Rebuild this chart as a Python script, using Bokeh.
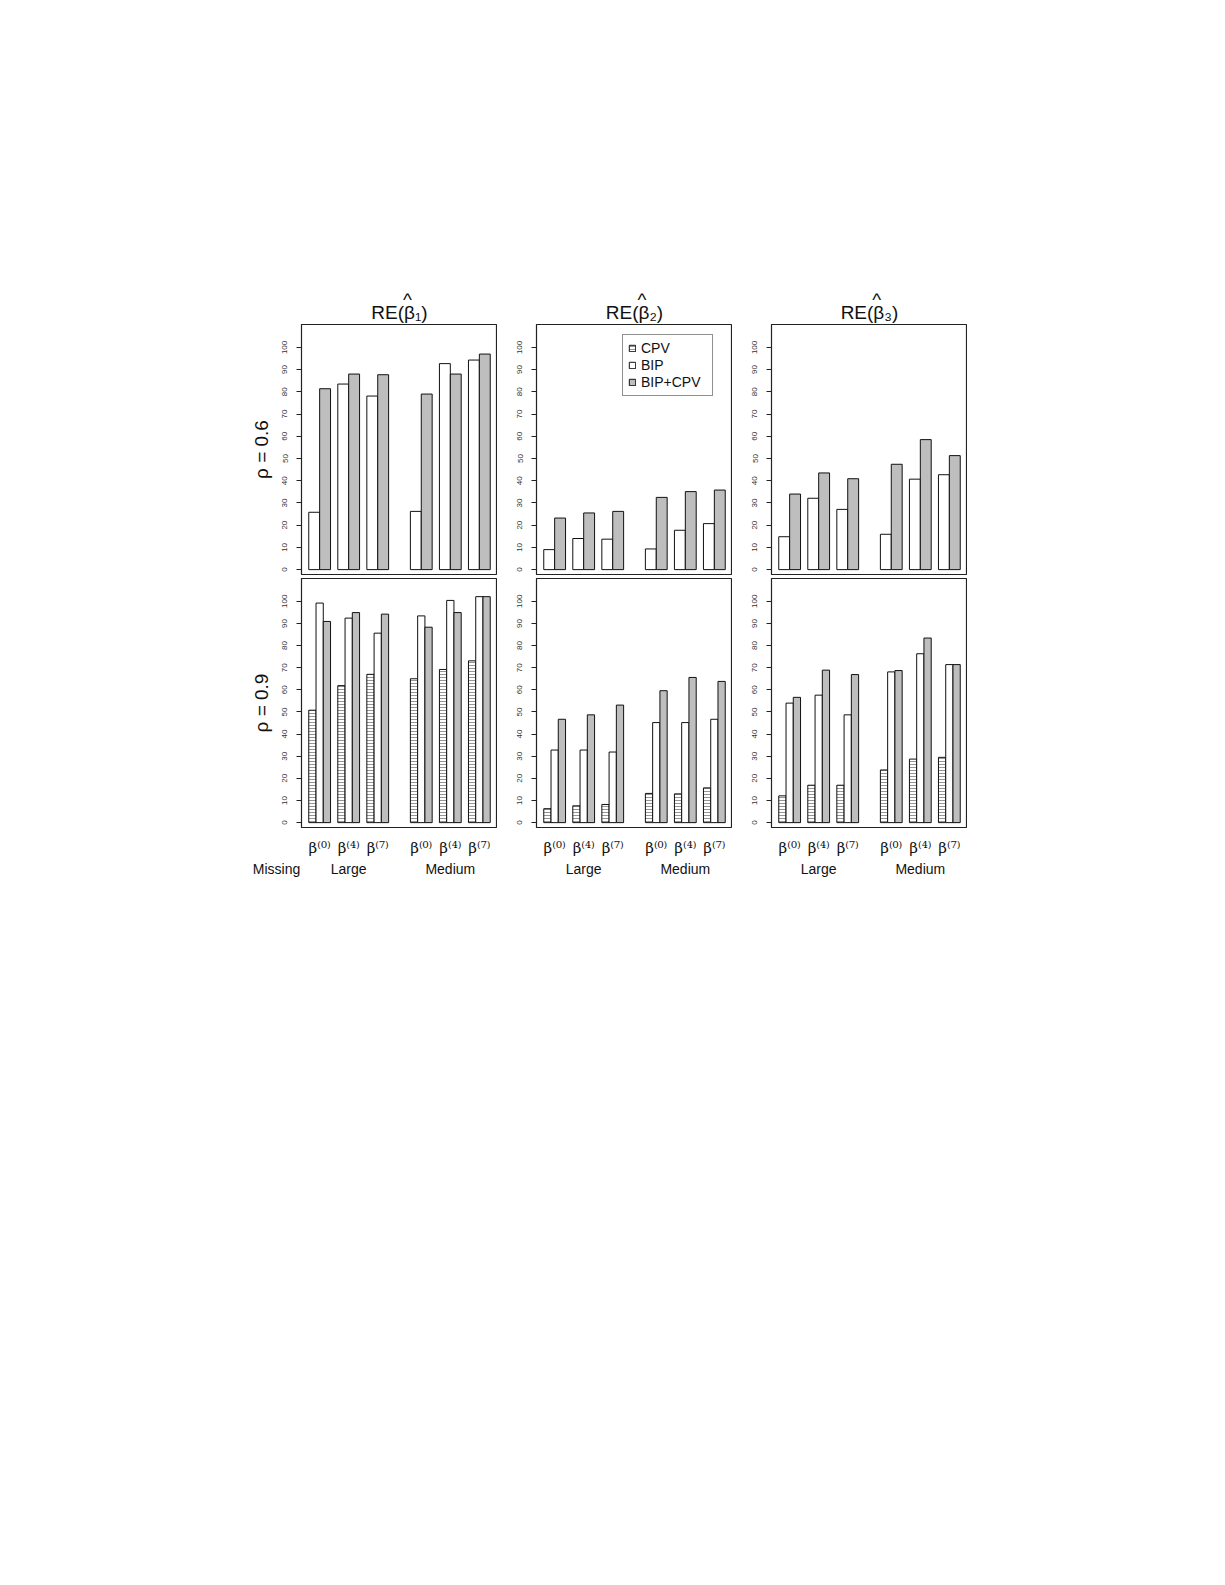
from bokeh.plotting import figure
from bokeh.models import (ColumnDataSource, FixedTicker, Range1d,
                          Legend, LegendItem)
from bokeh.core.properties import value
from bokeh.layouts import row, column
from bokeh.embed import file_html
from bokeh.resources import INLINE

NAN = float("nan")

# ---------------- data ----------------
beta_labels = ["β⁽⁰⁾", "β⁽⁴⁾", "β⁽⁷⁾", "β⁽⁰⁾", "β⁽⁴⁾", "β⁽⁷⁾"]
missing_title = "Missing"
missing_labels = ["Large", "Medium"]
titles = ["RE(β₁)", "RE(β₂)", "RE(β₃)"]
hat = "^"
rho_labels = ["ρ = 0.6", "ρ = 0.9"]
series_names = ["CPV", "BIP", "BIP+CPV"]
y_ticks = [0, 10, 20, 30, 40, 50, 60, 70, 80, 90, 100]

# rho = 0.6 (CPV not reported)
cpv_06 = [NAN, NAN, NAN, NAN, NAN, NAN]
bip_06_b1 = [25.8, 83.5, 78.1, 26.2, 92.7, 94.3]
both_06_b1 = [81.4, 88.0, 87.7, 79.0, 88.0, 97.0]
bip_06_b2 = [9.0, 14.0, 13.7, 9.3, 17.7, 20.7]
both_06_b2 = [23.2, 25.5, 26.2, 32.5, 35.1, 35.8]
bip_06_b3 = [14.8, 32.1, 27.1, 15.9, 40.7, 42.7]
both_06_b3 = [34.0, 43.5, 40.9, 47.4, 58.5, 51.3]

# rho = 0.9
cpv_09_b1 = [50.8, 61.9, 67.0, 65.0, 69.2, 73.1]
bip_09_b1 = [99.2, 92.4, 85.6, 93.4, 100.4, 102.1]
both_09_b1 = [90.9, 94.9, 94.2, 88.3, 94.9, 102.1]
cpv_09_b2 = [6.3, 7.6, 8.2, 13.2, 13.0, 15.7]
bip_09_b2 = [32.8, 32.8, 31.9, 45.2, 45.2, 46.7]
both_09_b2 = [46.7, 48.7, 53.1, 59.6, 65.6, 63.8]
cpv_09_b3 = [12.1, 16.9, 16.9, 23.8, 28.7, 29.5]
bip_09_b3 = [54.0, 57.6, 48.7, 68.1, 76.3, 71.4]
both_09_b3 = [56.6, 68.9, 66.9, 68.7, 83.4, 71.4]

top_row = [(bip_06_b1, both_06_b1), (bip_06_b2, both_06_b2), (bip_06_b3, both_06_b3)]
bottom_row = [(cpv_09_b1, bip_09_b1, both_09_b1),
              (cpv_09_b2, bip_09_b2, both_09_b2),
              (cpv_09_b3, bip_09_b3, both_09_b3)]

# ---------------- layout / style ----------------
group_start = [1, 5, 9, 15, 19, 23]          # R barplot-like slots
centers = [g + 1.5 for g in group_start]
missing_centers = [(group_start[0] + group_start[2] + 3) / 2,
                   (group_start[3] + group_start[5] + 3) / 2]
XR = (0, 27)
YR = (-2.2, 110.3)
FONT = "Liberation Sans"
GREY = "#bebebe"
HATCH = "#7a7a7a"
FRAME_W = 196
LEFT0 = 301
LEFTN = 39
BOTTOM_AX = 22
UNIT = FRAME_W / (XR[1] - XR[0])   # px per x unit
HAT_PAD = "\u00a0" * 6             # moves the hat over the beta


def base_fig(col, top):
    p = figure(output_backend="svg", toolbar_location=None,
               frame_width=FRAME_W, frame_height=250 if top else 249,
               x_range=Range1d(*XR), y_range=Range1d(*YR),
               min_border_left=LEFT0 if col == 0 else LEFTN,
               min_border_right=0,
               min_border_top=324 if top else 2,
               min_border_bottom=2 if top else BOTTOM_AX,
               x_axis_location=None if top else "below")
    p.background_fill_color = "white"
    p.border_fill_color = "white"
    p.outline_line_color = "#222222"
    p.outline_line_width = 1.2
    p.xgrid.visible = False
    p.ygrid.visible = False
    ya = p.yaxis[0]
    ya.ticker = FixedTicker(ticks=y_ticks)
    ya.major_label_orientation = "vertical"
    ya.major_label_text_font = FONT
    ya.major_label_text_font_size = "8px"
    ya.major_label_text_color = "#333333"
    ya.major_tick_out = 5
    ya.major_tick_in = 0
    ya.minor_tick_line_color = None
    ya.major_label_standoff = 9
    ya.axis_line_color = "#222222"
    ya.major_tick_line_color = "#222222"
    if col == 0:
        ya.axis_label = rho_labels[0 if top else 1]
        ya.axis_label_text_font = FONT
        ya.axis_label_text_font_style = "normal"
        ya.axis_label_text_font_size = "19px"
        ya.axis_label_standoff = 8
        ya.axis_label_text_color = "#111111"
    return p


figs_top = []
figs_bottom = []
strips = []
for c in range(3):
    # ---- top row (rho = 0.6): BIP and BIP+CPV, two wide bars per group
    p = base_fig(c, True)
    bip, both = top_row[c]
    src = ColumnDataSource(dict(
        x_cpv=[g + 0.5 for g in group_start],
        x_bip=[g + 0.75 for g in group_start], x_both=[g + 2.25 for g in group_start],
        cpv=cpv_06, bip=bip, both=both))
    r_cpv = p.vbar(x="x_cpv", top="cpv", bottom=0, width=1, source=src,
                   fill_color="white", line_color="#111111", line_width=1,
                   hatch_pattern="horizontal_line", hatch_color=HATCH,
                   hatch_scale=3, hatch_weight=0.8)
    r_bip = p.vbar(x="x_bip", top="bip", bottom=0, width=1.5, source=src,
                   fill_color="white", line_color="#111111", line_width=1)
    r_both = p.vbar(x="x_both", top="both", bottom=0, width=1.5, source=src,
                    fill_color=GREY, line_color="#111111", line_width=1)
    # title with a hat over beta: two lines, hat line shifted over the beta
    p.title.text = HAT_PAD + hat + "\n" + titles[c]
    p.title.align = "center"
    p.title.text_font = FONT
    p.title.text_font_style = "normal"
    p.title.text_font_size = "19px"
    p.title.text_color = "#111111"
    p.title.standoff = 3
    if "text_line_height" in p.title.properties():
        p.title.text_line_height = 0.64
    if c == 1:
        legend = Legend(items=[LegendItem(label=series_names[0], renderers=[r_cpv]),
                               LegendItem(label=series_names[1], renderers=[r_bip]),
                               LegendItem(label=series_names[2], renderers=[r_both])],
                        location=(86, 178))
        legend.label_text_font = FONT
        legend.label_text_font_size = "14px"
        legend.label_text_color = "#111111"
        legend.glyph_width = 8
        legend.glyph_height = 8
        legend.label_height = 16
        legend.label_width = 66
        legend.spacing = 1
        legend.padding = 5
        legend.label_standoff = 5
        legend.border_line_color = "#222222"
        legend.border_line_width = 1
        legend.background_fill_color = "white"
        legend.margin = 0
        p.add_layout(legend)
    figs_top.append(p)

    # ---- bottom row (rho = 0.9): three bars per group
    q = base_fig(c, False)
    cpv, bip9, both9 = bottom_row[c]
    src2 = ColumnDataSource(dict(
        x_cpv=[g + 0.5 for g in group_start], x_bip=[g + 1.5 for g in group_start],
        x_both=[g + 2.5 for g in group_start], cpv=cpv, bip=bip9, both=both9))
    q.vbar(x="x_cpv", top="cpv", bottom=0, width=1, source=src2,
           fill_color="white", line_color="#111111", line_width=1,
           hatch_pattern="horizontal_line", hatch_color=HATCH,
           hatch_scale=3, hatch_weight=0.8)
    q.vbar(x="x_bip", top="bip", bottom=0, width=1, source=src2,
           fill_color="white", line_color="#111111", line_width=1)
    q.vbar(x="x_both", top="both", bottom=0, width=1, source=src2,
           fill_color=GREY, line_color="#111111", line_width=1)
    xa = q.xaxis[0]
    xa.ticker = FixedTicker(ticks=centers)
    xa.major_label_overrides = {centers[i]: beta_labels[i] for i in range(6)}
    xa.axis_line_color = None
    xa.major_tick_line_color = None
    xa.minor_tick_line_color = None
    xa.major_label_text_font = "DejaVu Serif"
    xa.major_label_text_font_size = "15px"
    xa.major_label_text_color = "#111111"
    xa.major_label_standoff = 5
    figs_bottom.append(q)

    # ---- strip under each column: "Missing" / "Large" / "Medium"
    left_px = LEFT0 if c == 0 else LEFTN
    s = figure(output_backend="svg", toolbar_location=None,
               frame_width=left_px + FRAME_W, frame_height=26,
               x_range=Range1d(XR[0] - left_px / UNIT, XR[1]), y_range=Range1d(0, 1),
               min_border=0, min_border_left=0, min_border_right=0,
               min_border_top=0, min_border_bottom=0,
               x_axis_location=None, y_axis_location=None)
    s.outline_line_color = None
    s.xgrid.visible = False
    s.ygrid.visible = False
    s.background_fill_color = "white"
    s.border_fill_color = "white"
    s_x = list(missing_centers)
    s_t = list(missing_labels)
    if c == 0:
        s_x = [XR[0] - 25 / UNIT] + s_x
        s_t = [missing_title] + s_t
    s.text(x=s_x, y=[0.95] * len(s_x), text=s_t, text_align="center",
           text_baseline="top", text_font=value(FONT), text_font_size="14px",
           text_color="#111111")
    strips.append(s)

layout = column(row(*figs_top), row(*figs_bottom), row(*strips))
open("out.html", "w").write(file_html(layout, INLINE))
